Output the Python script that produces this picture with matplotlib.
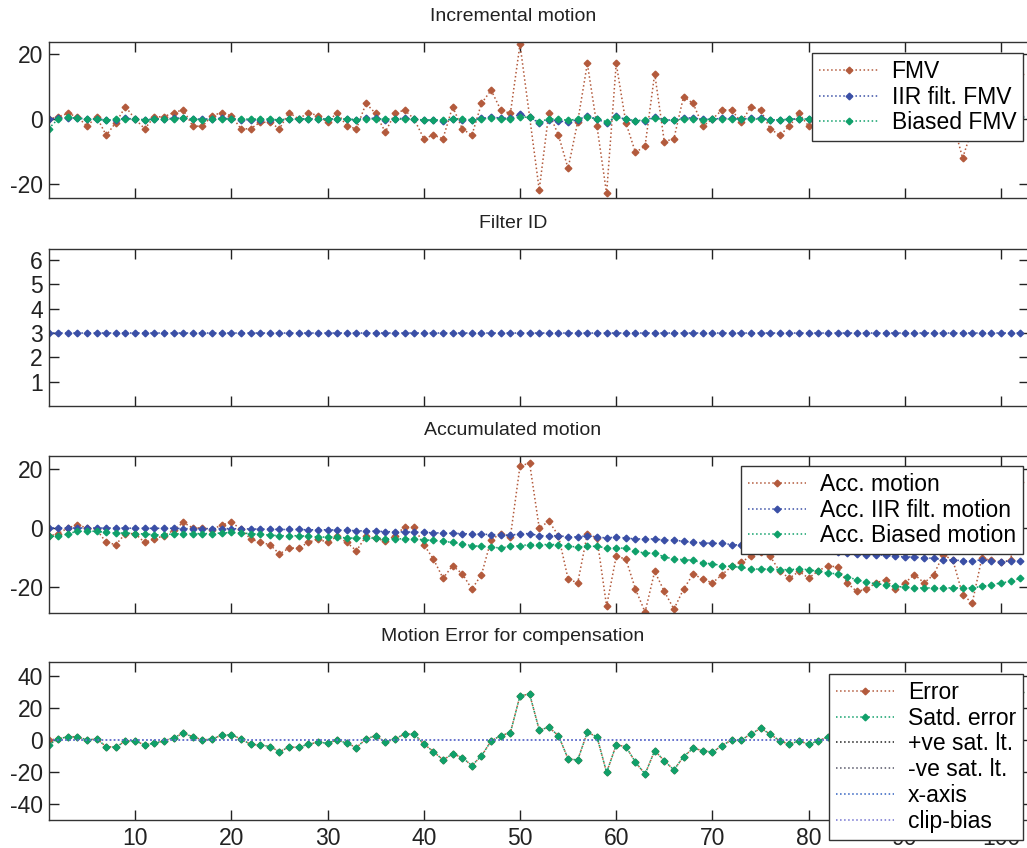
import matplotlib
matplotlib.use('Agg')
import matplotlib.pyplot as plt

plt.rcParams['font.family'] = ['Liberation Sans', 'DejaVu Sans']
plt.rcParams['axes.unicode_minus'] = False

# sample index
x = list(range(1, 103))

# ---- Incremental motion ----
fmv = [0, 0.7, 1.7, 0.7, -2.2, 0.7, -5, -1.1, 3.8, 0,
       -3, 0.7, 0.7, 2, 2.8, -2.2, -2.2, 1, 2, 1,
       -3, -3, -1, -1, -3, 2, 0, 2, 1, -1,
       2, -2.2, -3, 4.8, 1.7, -4, 1.7, 2.8, 0, -6,
       -5, -6, 3.8, -3, -5, 4.8, 8.9, 2.8, 1.7, 23,
       0.7, -21.8, 2, -5, -15.2, -0.8, 17.1, -2.2, -22.9, 17.1,
       -1.1, -10.3, -8.3, 14, -7, -6, 6.9, 4.8, -2.2, 0,
       2.8, 2.8, -1, 3.8, 2.8, -3, -5, -2.2, 1.7, -2.2,
       1.5, 2, -1, -4, -3, 1, 2, 1, -3, 2,
       3, -3, 3, 6, -1, -12, -3, 15, 2, -2,
       1, 14]
iir_fmv = [0, 0.2, 0.3, 0.3, 0, 0.1, -0.3, -0.2, 0.2, 0,
           -0.2, 0, 0.1, 0.2, 0.3, 0, -0.1, 0.1, 0.2, 0.1,
           -0.2, -0.3, -0.2, -0.2, -0.3, 0, 0, 0.1, 0.1, 0,
           0.1, -0.1, -0.2, 0.3, 0.2, -0.2, 0.1, 0.2, 0, -0.4,
           -0.4, -0.5, 0, -0.2, -0.4, 0.2, 0.6, 0.3, 0.2, 1.5,
           0.5, -1.2, -0.2, -0.5, -1, -0.2, 0.9, 0, -1.3, 0.8,
           -0.1, -0.6, -0.5, 0.7, -0.3, -0.3, 0.4, 0.3, -0.1, 0,
           0.2, 0.2, 0, 0.2, 0.2, -0.2, -0.3, -0.1, 0.1, -0.1,
           0.1, 0.1, 0, -0.2, -0.2, 0, 0.1, 0, -0.2, 0.1,
           0.2, -0.1, 0.2, 0.3, 0, -0.6, -0.3, 0.8, 0.2, -0.1,
           0, 0.8]
biased_fmv = [-3, 0, 0.5, 0.3, 0, 0, -0.4, 0, 0, 0,
              -0.3, 0, 0, 0, 0.3, 0, -0.2, 0, 0, 0,
              0, 0, 0, 0, -0.3, 0, 0, 0, 0, 0,
              0, 0, -0.2, 0, 0, 0, 0, 0, 0, -0.3,
              -0.2, -0.4, 0, 0, -0.2, 0, 0.3, 0, 0, 0.7,
              0.5, -0.8, 0, 0, -0.4, 0, 0.6, 0, -0.8, 0.5,
              0, -0.5, -0.3, 0.3, -0.2, -0.3, 0, 0, -0.2, 0,
              0, 0, 0, 0, 0, -0.2, -0.3, 0, 0, 0,
              0, 0, 0, -0.2, -0.3, 0, 0, 0, -0.2, 0,
              0, 0, 0, 0.2, 0, -0.3, 0, 0.3, 0, 0,
              0, 0.5]

# ---- Filter ID ----
filter_id = [3] * 102

# ---- Accumulated motion ----
acc_motion = [-2.8, -1.9, 0, 1.1, 0, -0.5, -4.9, -5.6, -1.9, -1.9,
              -4.9, -3.7, -2.6, -0.8, 1.9, 0, 0, -0.6, 1.1, 1.9,
              -0.3, -3.7, -4.9, -5.6, -8.8, -6.8, -6.8, -4.9, -3.7, -4.9,
              -2.8, -4.9, -7.7, -2.8, -3.4, -4.5, -2.6, 0.3, 0.3, -5.6,
              -10.5, -17, -12.8, -15.5, -20.7, -15.8, -4, -1.9, -3, 21,
              22, 0, 2.3, -2.6, -17.3, -18.6, -2, -3.4, -26.5, -9.6,
              -10.5, -20.7, -28.5, -14.7, -21.5, -27.5, -20.7, -15.6, -17.3, -18.6,
              -15.8, -13, -11.5, -9.6, -8, -9.6, -14.7, -17, -14.7, -17,
              -14.5, -12.8, -13.2, -18.6, -21.5, -20.7, -18.6, -17.5, -20.7, -18.6,
              -15.8, -18.6, -15.8, -9, -11, -22.6, -25.4, -10.2, -11, -11.5,
              -11, 15.6]
acc_iir = [0, 0, 0, 0, 0, 0, 0, 0, 0, -0.1,
           -0.1, -0.1, -0.1, -0.1, -0.2, -0.2, -0.2, -0.2, -0.2, -0.2,
           -0.3, -0.3, -0.4, -0.4, -0.5, -0.5, -0.5, -0.6, -0.6, -0.6,
           -0.7, -0.8, -0.9, -1, -1.1, -1.2, -1.3, -1.3, -1.4, -1.5,
           -1.6, -1.7, -1.8, -1.9, -2, -2.1, -2.2, -2.3, -2.5, -1.9,
           -1.9, -2.6, -2.6, -2.6, -3, -3, -2.6, -3, -3.4, -3,
           -3.4, -3.7, -3.7, -3.7, -4.1, -4.1, -4.5, -4.8, -5, -5.2,
           -5.2, -5.6, -5.8, -6, -6.2, -6.4, -6.6, -6.8, -7, -7.2,
           -7.4, -7.6, -8.2, -8.5, -8.7, -9, -9, -9.3, -9.6, -9.8,
           -9.8, -10.2, -10.2, -10.8, -10.8, -11.1, -11.1, -10.8, -11.1, -11.5,
           -11.1, -11.1]
acc_biased = [-2.8, -2.8, -2, -1.1, -1.1, -1.1, -1.5, -1.7, -1.7, -1.9,
              -2, -2.3, -2.3, -2, -1.9, -1.9, -1.9, -1.9, -1.7, -1.5,
              -1.7, -1.9, -2.1, -2.4, -2.6, -2.6, -2.6, -2.8, -3, -3.1,
              -3, -3.4, -3.4, -3.4, -3.4, -3.7, -3.6, -3.7, -3.7, -4,
              -4.2, -4.5, -4.9, -5.3, -6, -6.2, -6.4, -6.8, -6.2, -6,
              -5.6, -5.6, -5.6, -5.6, -6.2, -6.4, -6.2, -6.2, -6.8, -6.8,
              -6.8, -7.9, -8.5, -8.5, -9.8, -10.5, -10.7, -10.9, -11.9, -12.1,
              -12.8, -13, -13.3, -13.9, -13.9, -13.9, -14.1, -14.1, -13.9, -14.1,
              -14.7, -15.3, -15.5, -16.6, -17.5, -18.4, -18.9, -19.2, -19.8, -20,
              -20.3, -20.3, -20.3, -20.3, -20.3, -20.3, -20.3, -19.8, -19.2, -18.6,
              -18.1, -17]

# ---- Motion error for compensation ----
satd_error = [-3.1, 0.6, 2, 2, 0, 0.6, -4.1, -4.5, -0.6, -0.6,
              -3.1, -2, -0.6, 1.4, 4.1, 2, 0, 0.6, 2.9, 3.3,
              0.6, -2.7, -3.1, -4.1, -7.2, -4.5, -4.5, -2.7, -1.4, -2,
              0, -2, -4.7, 0.6, 2.7, -1.4, 0.6, 3.7, 3.7, -2.5,
              -7.2, -12.4, -8.7, -10.9, -15.9, -9.9, -0.6, 2.7, 4.5, 27.4,
              28.5, 6.2, 7.8, 2.7, -11.8, -12.4, 4.7, 2, -20.2, -3.1,
              -4.1, -13.8, -21.2, -6.6, -13, -18.6, -10.3, -5.2, -6.6, -7.6,
              -3.5, 0, 0, 3.7, 7.2, 3.7, -0.6, -2.7, -0.6, -2.7,
              -0.6, 2, 2.3, -2, -4, -2.3, 0.3, 1.7, -0.9, 1.4,
              4.5, 1.7, 4.5, 11.3, 9.3, -2.3, -5.1, 9.6, 11.2, 8.6,
              9.1, 30]
error = [0] + satd_error[1:]
pos_sat = 60
neg_sat = -60
x_axis = 0
clip_bias = 0

brown = '#b35a3c'
blue = '#3a4fa6'
green = '#0fa06a'

fig = plt.figure(figsize=(10.27, 8.48), dpi=100)
W, H = 1027.0, 848.0
left_px, right_px = 48.5, 1029.0

def make_ax(top_px, bot_px):
    ax = fig.add_axes([left_px / W, 1 - bot_px / H, (right_px - left_px) / W, (bot_px - top_px) / H])
    ax.set_xlim(1, 102.9)
    ax.set_xticks(range(10, 101, 10))
    ax.tick_params(direction='in', length=7, width=1, top=True, right=True,
                   labelsize=16.5, colors='#222222', pad=4)
    ax.tick_params(axis='x', pad=5)
    for s in ax.spines.values():
        s.set_color('#333333')
        s.set_linewidth(1)
    return ax

def title(ax, text):
    ax.set_title(text, fontsize=14, x=(513 - left_px) / (right_px - left_px), pad=15, color='#222222')

kw = dict(linestyle=':', linewidth=1.1, marker='D', markersize=3.4)

def legend(ax, right_px_l, top_px_l, ax_top, ax_bot):
    bx = (right_px_l - left_px) / (right_px - left_px)
    by = (ax_bot - top_px_l) / (ax_bot - ax_top)
    leg = ax.legend(loc='upper right', bbox_to_anchor=(bx, by), fontsize=16.5, fancybox=False,
                    framealpha=1, edgecolor='#333333', handlelength=2.55, handletextpad=0.6,
                    borderpad=0.3, labelspacing=0.12, borderaxespad=0)
    leg.get_frame().set_linewidth(1)
    leg.set_zorder(10)
    return leg

# subplot 1
ax1 = make_ax(42, 198)
ax1.plot(x, fmv, color=brown, label='FMV', **kw)
ax1.plot(x, iir_fmv, color=blue, label='IIR filt. FMV', **kw)
ax1.plot(x, biased_fmv, color=green, label='Biased FMV', **kw)
ax1.set_ylim(-24.3, 23.7)
ax1.set_yticks([-20, 0, 20])
ax1.set_xticklabels([])
title(ax1, 'Incremental motion')
legend(ax1, 1023, 53, 42, 198)

# subplot 2
ax2 = make_ax(249, 406)
ax2.plot(x, filter_id, color=blue, **kw)
ax2.set_ylim(0, 6.46)
ax2.set_yticks([1, 2, 3, 4, 5, 6])
ax2.set_xticklabels([])
title(ax2, 'Filter ID')

# subplot 3
ax3 = make_ax(456, 613)
ax3.plot(x, acc_motion, color=brown, label='Acc. motion', **kw)
ax3.plot(x, acc_iir, color=blue, label='Acc. IIR filt. motion', **kw)
ax3.plot(x, acc_biased, color=green, label='Acc. Biased motion', **kw)
ax3.set_ylim(-28.8, 24.4)
ax3.set_yticks([-20, 0, 20])
ax3.set_xticklabels([])
title(ax3, 'Accumulated motion')
legend(ax3, 1023, 466, 456, 613)

# subplot 4
ax4 = make_ax(662, 820)
ax4.plot(x, error, color=brown, label='Error', **kw)
ax4.plot(x, satd_error, color=green, label='Satd. error', **kw)
ax4.plot(x, [pos_sat] * len(x), color='#202020', linestyle=':', linewidth=1.1, label='+ve sat. lt.')
ax4.plot(x, [neg_sat] * len(x), color='#555566', linestyle=':', linewidth=1.1, label='-ve sat. lt.')
ax4.plot(x, [x_axis] * len(x), color='#3060c0', linestyle=':', linewidth=1.1, label='x-axis')
ax4.plot(x, [clip_bias] * len(x), color='#7070d0', linestyle=':', linewidth=1.1, label='clip-bias')
ax4.set_ylim(-49.7, 48.4)
ax4.set_yticks([-40, -20, 0, 20, 40])
title(ax4, 'Motion Error for compensation')
legend(ax4, 1023, 674, 662, 820)

fig.savefig('out.png', dpi=100)
